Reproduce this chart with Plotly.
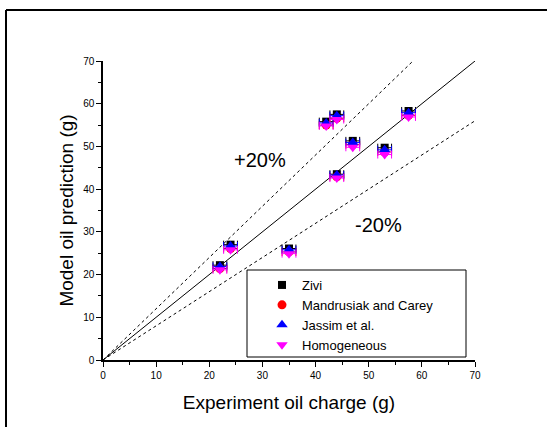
import plotly.graph_objects as go

# Data
experiment = [22, 24, 35, 42, 44, 44, 47, 53, 57.5]
x_err = [1.3, 1.3, 1.3, 1.3, 1.3, 1.3, 1.3, 1.3, 1.3]
zivi = [22.2, 27.0, 26.1, 55.8, 43.5, 57.5, 51.3, 49.7, 58.3]
mandrusiak = [21.4, 26.1, 25.3, 55.0, 42.9, 56.6, 50.4, 48.7, 57.3]
jassim = [21.9, 26.7, 25.8, 55.5, 43.3, 57.2, 50.9, 49.2, 57.9]
homogeneous = [21.1, 25.8, 24.9, 54.8, 42.6, 56.3, 49.8, 48.1, 56.9]

series_names = ["Zivi", "Mandrusiak and Carey", "Jassim et al.", "Homogeneous"]
series_values = [zivi, mandrusiak, jassim, homogeneous]
series_colors = ["black", "red", "blue", "magenta"]
series_symbols = ["square", "circle", "triangle-up", "triangle-down"]
series_sizes = [8, 9, 10, 10]

line_x = [0, 70]
line_y = [0, 70]
plus_x = [0, 70 / 1.2]
plus_y = [0, 70]
minus_x = [0, 70]
minus_y = [0, 56]

FONT = "Liberation Sans, Arial, sans-serif"

fig = go.Figure()

fig.add_trace(go.Scatter(x=line_x, y=line_y, mode="lines",
                         line=dict(color="black", width=1), showlegend=False, hoverinfo="skip"))
fig.add_trace(go.Scatter(x=plus_x, y=plus_y, mode="lines",
                         line=dict(color="black", width=1, dash="dot"), showlegend=False, hoverinfo="skip"))
fig.add_trace(go.Scatter(x=minus_x, y=minus_y, mode="lines",
                         line=dict(color="black", width=1, dash="dot"), showlegend=False, hoverinfo="skip"))

for name, vals, col, sym, sz in zip(series_names, series_values, series_colors, series_symbols, series_sizes):
    fig.add_trace(go.Scatter(
        x=experiment, y=vals, mode="markers", name=name,
        marker=dict(color=col, symbol=sym, size=sz, line=dict(width=0)),
        error_x=dict(type="data", array=x_err, color=col, thickness=1, width=4),
    ))

fig.add_annotation(x=29.5, y=46.8, text="+20%", showarrow=False,
                   font=dict(family=FONT, size=20, color="black"))
fig.add_annotation(x=51.8, y=31.6, text="-20%", showarrow=False,
                   font=dict(family=FONT, size=20, color="black"))

# outer frame (top and left edges only are visible)
fx0 = (6 - 103) / 372
fy1 = (360 - 10) / 299
fig.add_shape(type="line", xref="paper", yref="paper",
              x0=fx0, x1=2.0, y0=fy1, y1=fy1,
              line=dict(color="black", width=2), layer="below")
fig.add_shape(type="line", xref="paper", yref="paper",
              x0=fx0, x1=fx0, y0=-1.0, y1=fy1,
              line=dict(color="black", width=2), layer="below")
# legend box
fig.add_shape(type="rect", xref="paper", yref="paper",
              x0=(247 - 103) / 372, x1=(466 - 103) / 372,
              y0=(360 - 357) / 299, y1=(360 - 270) / 299,
              line=dict(color="black", width=1), fillcolor="white", layer="below")

axis_common = dict(
    range=[0, 70], dtick=10, showgrid=False, zeroline=False,
    showline=True, linecolor="black", linewidth=1.5,
    ticks="outside", ticklen=5, tickwidth=1, tickcolor="black",
    minor=dict(ticks="outside", ticklen=3, dtick=5, tickcolor="black", tickwidth=1),
    tickfont=dict(family=FONT, size=10, color="black"),
)

fig.update_layout(
    width=547, height=427,
    margin=dict(l=103, r=72, t=61, b=67),
    paper_bgcolor="white", plot_bgcolor="white",
    font=dict(family=FONT, color="black"),
    xaxis=dict(**axis_common,
               title=dict(text="Experiment oil charge (g)", font=dict(family=FONT, size=19), standoff=16)),
    yaxis=dict(**axis_common,
               title=dict(text="Model oil prediction (g)", font=dict(family=FONT, size=19), standoff=4)),
    legend=dict(x=(262 - 103) / 372, y=(360 - 270) / 299, xanchor="left", yanchor="top",
                bgcolor="rgba(0,0,0,0)", borderwidth=0,
                font=dict(family=FONT, size=13, color="black"), itemwidth=30),
    showlegend=True,
)

fig.write_html("out.html")
